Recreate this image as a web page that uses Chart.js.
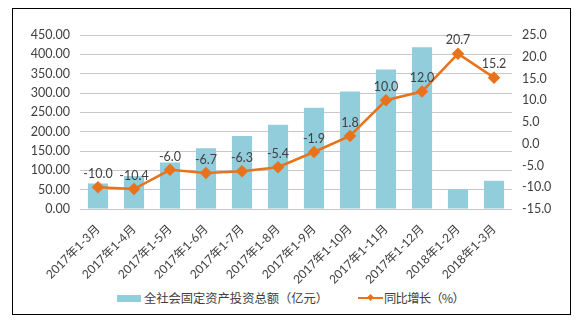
<!DOCTYPE html>
<html>
<head>
<meta charset="utf-8">
<script src="https://cdn.jsdelivr.net/npm/chart.js@4.4.1/dist/chart.umd.min.js"></script>
<style>
  html, body { margin: 0; padding: 0; background: #fff; }
  body { width: 584px; height: 325px; position: relative; overflow: hidden; }
  #frame { position: absolute; left: 12px; top: 8px; width: 559px; height: 307px; border: 1px solid #000; box-sizing: border-box; }
  #c { position: absolute; left: 0; top: 0; }
  .item { position: absolute; top: 280px; display: flex; align-items: center; height: 18px;
          font: 12.3px "Noto Sans CJK SC", sans-serif; color: #404040; white-space: nowrap; }
  .swatch { width: 24px; height: 7px; background: #92cddc; margin-right: 3px; }
  .lineKey { position: relative; width: 25px; height: 2px; background: #e8731c; margin-right: 1px; }
  .lineKey::after { content: ''; position: absolute; left: 10px; top: -2px; width: 5px; height: 5px; background: #e8731c; transform: rotate(45deg); }
</style>
</head>
<body>
<div id="frame">
  <canvas id="c" width="557" height="275"></canvas>
  <div class="item" style="left:104px"><span class="swatch"></span><span class="txt" data-w="184">全社会固定资产投资总额（亿元）</span></div>
  <div class="item" style="left:345px"><span class="lineKey"></span><span class="txt" data-w="80">同比增长（%）</span></div>
</div>
<script>
const categories = ['2017年1-3月', '2017年1-4月', '2017年1-5月', '2017年1-6月', '2017年1-7月', '2017年1-8月',
                    '2017年1-9月', '2017年1-10月', '2017年1-11月', '2017年1-12月', '2018年1-2月', '2018年1-3月'];
const investment = [66, 85, 120, 157, 189, 218, 262, 304, 361, 418, 51, 73];
const growth = [-10.0, -10.4, -6.0, -6.7, -6.3, -5.4, -1.9, 1.8, 10.0, 12.0, 20.7, 15.2];
const leftRange = [0, 450, 50];
const rightRange = [-15, 25, 5];

const tickFont = { family: 'Lato, "Noto Sans CJK SC", sans-serif', size: 12.5 };
const ink = '#404040';

// stretch legend text to its intended width
document.querySelectorAll('.txt').forEach(el => {
  const w = el.getBoundingClientRect().width;
  const n = el.textContent.length;
  el.style.letterSpacing = ((Number(el.dataset.w) - w) / n) + 'px';
});

// value labels above the growth line
const pointLabels = {
  id: 'pointLabels',
  afterDatasetsDraw(chart) {
    const meta = chart.getDatasetMeta(1);
    const ctx = chart.ctx;
    ctx.save();
    ctx.font = '12.5px Lato, "Noto Sans CJK SC", sans-serif';
    ctx.fillStyle = ink;
    ctx.textAlign = 'center';
    ctx.textBaseline = 'bottom';
    meta.data.forEach((pt, i) => {
      ctx.fillText(growth[i].toFixed(1), pt.x, pt.y - 7);
    });
    ctx.restore();
  }
};

new Chart(document.getElementById('c'), {
  data: {
    labels: categories,
    datasets: [{
      type: 'bar',
      label: '全社会固定资产投资总额（亿元）',
      data: investment,
      yAxisID: 'y',
      backgroundColor: '#92cddc',
      barPercentage: 0.56,
      categoryPercentage: 1,
      order: 2
    }, {
      type: 'line',
      label: '同比增长（%）',
      data: growth,
      yAxisID: 'y1',
      borderColor: '#e8731c',
      borderWidth: 2.5,
      pointStyle: 'rectRot',
      pointRadius: 4.5,
      pointBackgroundColor: '#e8731c',
      pointBorderColor: '#e8731c',
      tension: 0,
      order: 1
    }]
  },
  options: {
    responsive: false,
    animation: false,
    devicePixelRatio: 1,
    layout: { padding: { top: 26, left: 0, right: 0, bottom: 0 } },
    plugins: { legend: { display: false }, tooltip: { enabled: false } },
    scales: {
      x: {
        grid: { display: false },
        border: { display: false },
        ticks: { color: ink, font: { family: tickFont.family, size: 12 }, minRotation: 45, maxRotation: 45, padding: 5, autoSkip: false },
        afterFit(s) { s.height = 75; }
      },
      y: {
        position: 'left',
        min: leftRange[0], max: leftRange[1],
        ticks: { stepSize: leftRange[2], color: ink, font: tickFont, padding: 10, callback: v => v.toFixed(2) },
        grid: { color: '#c8c8c8', drawTicks: false, lineWidth: 1 },
        border: { display: false },
        afterFit(s) { s.width = 67; }
      },
      y1: {
        position: 'right',
        min: rightRange[0], max: rightRange[1],
        ticks: { stepSize: rightRange[2], color: ink, font: tickFont, padding: 10, callback: v => v.toFixed(1) },
        grid: { display: false, drawTicks: false },
        border: { display: false },
        afterFit(s) { s.width = 58; }
      }
    }
  },
  plugins: [pointLabels]
});
</script>
</body>
</html>
